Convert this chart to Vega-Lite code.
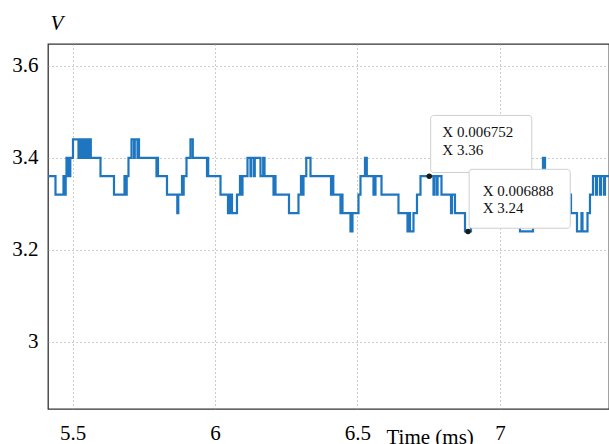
{
  "$schema": "https://vega.github.io/schema/vega-lite/v6.json",
  "autosize": {"type": "none"},
  "width": 561,
  "height": 365,
  "padding": {"left": 48, "top": 44, "right": 0, "bottom": 35},
  "background": "white",
  "config": {
    "view": {"stroke": "#333", "strokeWidth": 1.3},
    "font": "'Liberation Serif', 'Times New Roman', serif"
  },
  "datasets": {
    "series": [
      {"t": 5.4133, "v": 3.36}, {"t": 5.4396, "v": 3.32}, {"t": 5.4677, "v": 3.36}, {"t": 5.4730, "v": 3.32},
      {"t": 5.4754, "v": 3.36}, {"t": 5.4782, "v": 3.40}, {"t": 5.4810, "v": 3.36}, {"t": 5.4853, "v": 3.40},
      {"t": 5.4881, "v": 3.36}, {"t": 5.4916, "v": 3.40}, {"t": 5.5011, "v": 3.44}, {"t": 5.5204, "v": 3.40},
      {"t": 5.5232, "v": 3.44}, {"t": 5.5291, "v": 3.40}, {"t": 5.5320, "v": 3.44}, {"t": 5.5397, "v": 3.40},
      {"t": 5.5425, "v": 3.44}, {"t": 5.5485, "v": 3.40}, {"t": 5.5513, "v": 3.44}, {"t": 5.5572, "v": 3.40},
      {"t": 5.5600, "v": 3.44}, {"t": 5.5636, "v": 3.40}, {"t": 5.5976, "v": 3.36}, {"t": 5.6450, "v": 3.32},
      {"t": 5.6819, "v": 3.36}, {"t": 5.6871, "v": 3.32}, {"t": 5.6896, "v": 3.36}, {"t": 5.6959, "v": 3.40},
      {"t": 5.7065, "v": 3.44}, {"t": 5.7152, "v": 3.40}, {"t": 5.7180, "v": 3.44}, {"t": 5.7275, "v": 3.40},
      {"t": 5.7300, "v": 3.44}, {"t": 5.7328, "v": 3.40}, {"t": 5.7942, "v": 3.36}, {"t": 5.7967, "v": 3.40},
      {"t": 5.7995, "v": 3.36}, {"t": 5.8311, "v": 3.32}, {"t": 5.8673, "v": 3.28}, {"t": 5.8708, "v": 3.32},
      {"t": 5.8838, "v": 3.36}, {"t": 5.8873, "v": 3.32}, {"t": 5.8897, "v": 3.36}, {"t": 5.8996, "v": 3.40},
      {"t": 5.9136, "v": 3.44}, {"t": 5.9217, "v": 3.40}, {"t": 5.9716, "v": 3.36}, {"t": 5.9737, "v": 3.40},
      {"t": 5.9758, "v": 3.36}, {"t": 6.0190, "v": 3.32}, {"t": 6.0453, "v": 3.28}, {"t": 6.0488, "v": 3.32},
      {"t": 6.0523, "v": 3.28}, {"t": 6.0558, "v": 3.32}, {"t": 6.0593, "v": 3.28}, {"t": 6.0769, "v": 3.32},
      {"t": 6.0874, "v": 3.36}, {"t": 6.0927, "v": 3.32}, {"t": 6.0962, "v": 3.36}, {"t": 6.1138, "v": 3.40},
      {"t": 6.1243, "v": 3.36}, {"t": 6.1271, "v": 3.40}, {"t": 6.1366, "v": 3.36}, {"t": 6.1394, "v": 3.40},
      {"t": 6.1594, "v": 3.36}, {"t": 6.1689, "v": 3.40}, {"t": 6.1735, "v": 3.36}, {"t": 6.2051, "v": 3.32},
      {"t": 6.2086, "v": 3.36}, {"t": 6.2121, "v": 3.32}, {"t": 6.2595, "v": 3.28}, {"t": 6.2928, "v": 3.32},
      {"t": 6.3016, "v": 3.36}, {"t": 6.3069, "v": 3.32}, {"t": 6.3104, "v": 3.36}, {"t": 6.3202, "v": 3.40},
      {"t": 6.3350, "v": 3.36}, {"t": 6.4070, "v": 3.32}, {"t": 6.4105, "v": 3.36}, {"t": 6.4150, "v": 3.32},
      {"t": 6.4403, "v": 3.28}, {"t": 6.4438, "v": 3.32}, {"t": 6.4473, "v": 3.28}, {"t": 6.4754, "v": 3.24},
      {"t": 6.4824, "v": 3.28}, {"t": 6.5035, "v": 3.32}, {"t": 6.5105, "v": 3.36}, {"t": 6.5263, "v": 3.40},
      {"t": 6.5327, "v": 3.36}, {"t": 6.5562, "v": 3.32}, {"t": 6.5632, "v": 3.36}, {"t": 6.5843, "v": 3.32},
      {"t": 6.6439, "v": 3.28}, {"t": 6.6756, "v": 3.24}, {"t": 6.6808, "v": 3.28}, {"t": 6.6843, "v": 3.24},
      {"t": 6.6966, "v": 3.28}, {"t": 6.7089, "v": 3.32}, {"t": 6.7212, "v": 3.36}, {"t": 6.7669, "v": 3.32},
      {"t": 6.7697, "v": 3.36}, {"t": 6.7784, "v": 3.32}, {"t": 6.7812, "v": 3.36}, {"t": 6.7949, "v": 3.32},
      {"t": 6.8283, "v": 3.28}, {"t": 6.8318, "v": 3.32}, {"t": 6.8423, "v": 3.28}, {"t": 6.8775, "v": 3.24},
      {"t": 6.8985, "v": 3.28}, {"t": 6.9161, "v": 3.32}, {"t": 6.9231, "v": 3.36}, {"t": 6.9372, "v": 3.40},
      {"t": 6.9442, "v": 3.36}, {"t": 6.9933, "v": 3.32}, {"t": 7.0390, "v": 3.28}, {"t": 7.0706, "v": 3.24},
      {"t": 7.1162, "v": 3.28}, {"t": 7.1303, "v": 3.32}, {"t": 7.1408, "v": 3.36}, {"t": 7.1513, "v": 3.40},
      {"t": 7.1584, "v": 3.36}, {"t": 7.2005, "v": 3.32}, {"t": 7.2497, "v": 3.28}, {"t": 7.2707, "v": 3.24},
      {"t": 7.2865, "v": 3.28}, {"t": 7.2900, "v": 3.24}, {"t": 7.3076, "v": 3.28}, {"t": 7.3163, "v": 3.32},
      {"t": 7.3269, "v": 3.36}, {"t": 7.3374, "v": 3.32}, {"t": 7.3409, "v": 3.36}, {"t": 7.3515, "v": 3.32},
      {"t": 7.3550, "v": 3.36}, {"t": 7.3655, "v": 3.32}, {"t": 7.3690, "v": 3.36}, {"t": 7.3831, "v": 3.36}
    ],
    "boxes": [
      {"t1": 6.757, "t2": 7.112, "v1": 3.368, "v2": 3.492},
      {"t1": 6.892, "t2": 7.247, "v1": 3.247, "v2": 3.375}
    ],
    "labels": [
      {"t": 6.7978, "v": 3.4445, "txt": "X 0.006752"},
      {"t": 6.7978, "v": 3.4061, "txt": "X 3.36"},
      {"t": 6.9396, "v": 3.3170, "txt": "X 0.006888"},
      {"t": 6.9396, "v": 3.2795, "txt": "X 3.24"}
    ],
    "points": [
      {"t": 6.752, "v": 3.36},
      {"t": 6.888, "v": 3.24}
    ]
  },
  "encoding": {
    "x": {
      "type": "quantitative",
      "scale": {"domain": [5.4133, 7.3831], "nice": false, "zero": false},
      "axis": {
        "title": "Time (ms)",
        "values": [5.5, 6, 6.5, 7],
        "format": "~g",
        "domain": false,
        "ticks": false,
        "tickSize": 0,
        "labelFont": "'Liberation Serif', 'Times New Roman', serif",
        "labelFontSize": 21,
        "labelColor": "#000",
        "labelPadding": 13,
        "grid": true,
        "gridColor": "#999",
        "gridDash": [1, 3],
        "gridWidth": 1,
        "titleFont": "'Liberation Serif', 'Times New Roman', serif",
        "titleFontSize": 21,
        "titleFontWeight": "normal",
        "titleColor": "#000",
        "titleAlign": "left",
        "titleAnchor": "start",
        "titleBaseline": "alphabetic",
        "titleX": 338,
        "titleY": 34
      }
    },
    "y": {
      "type": "quantitative",
      "scale": {"domain": [2.8545, 3.6471], "nice": false, "zero": false},
      "axis": {
        "title": "V",
        "values": [3, 3.2, 3.4, 3.6],
        "format": "~g",
        "domain": false,
        "ticks": false,
        "tickSize": 0,
        "labelFont": "'Liberation Serif', 'Times New Roman', serif",
        "labelFontSize": 21,
        "labelColor": "#000",
        "labelPadding": 10,
        "grid": true,
        "gridColor": "#999",
        "gridDash": [1, 3],
        "gridWidth": 1,
        "titleFont": "'Liberation Serif', 'Times New Roman', serif",
        "titleFontSize": 21,
        "titleFontStyle": "italic",
        "titleFontWeight": "normal",
        "titleColor": "#000",
        "titleAngle": 0,
        "titleAlign": "left",
        "titleBaseline": "alphabetic",
        "titleX": 2,
        "titleY": -15
      }
    }
  },
  "layer": [
    {
      "data": {"name": "series"},
      "mark": {"type": "line", "interpolate": "step-after", "color": "#1e76c0", "strokeWidth": 2.2, "clip": true},
      "encoding": {"x": {"field": "t"}, "y": {"field": "v"}}
    },
    {
      "data": {"name": "boxes"},
      "mark": {"type": "rect", "fill": "white", "stroke": "#cfcfcf", "strokeWidth": 1, "cornerRadius": 3},
      "encoding": {"x": {"field": "t1"}, "x2": {"field": "t2"}, "y": {"field": "v1"}, "y2": {"field": "v2"}}
    },
    {
      "data": {"name": "labels"},
      "mark": {"type": "text", "align": "left", "baseline": "alphabetic", "font": "'Liberation Serif', 'Times New Roman', serif", "fontSize": 15, "color": "#111"},
      "encoding": {"x": {"field": "t"}, "y": {"field": "v"}, "text": {"field": "txt"}}
    },
    {
      "data": {"name": "points"},
      "mark": {"type": "point", "filled": true, "size": 30, "color": "#1a1a10", "opacity": 1},
      "encoding": {"x": {"field": "t"}, "y": {"field": "v"}}
    }
  ]
}
